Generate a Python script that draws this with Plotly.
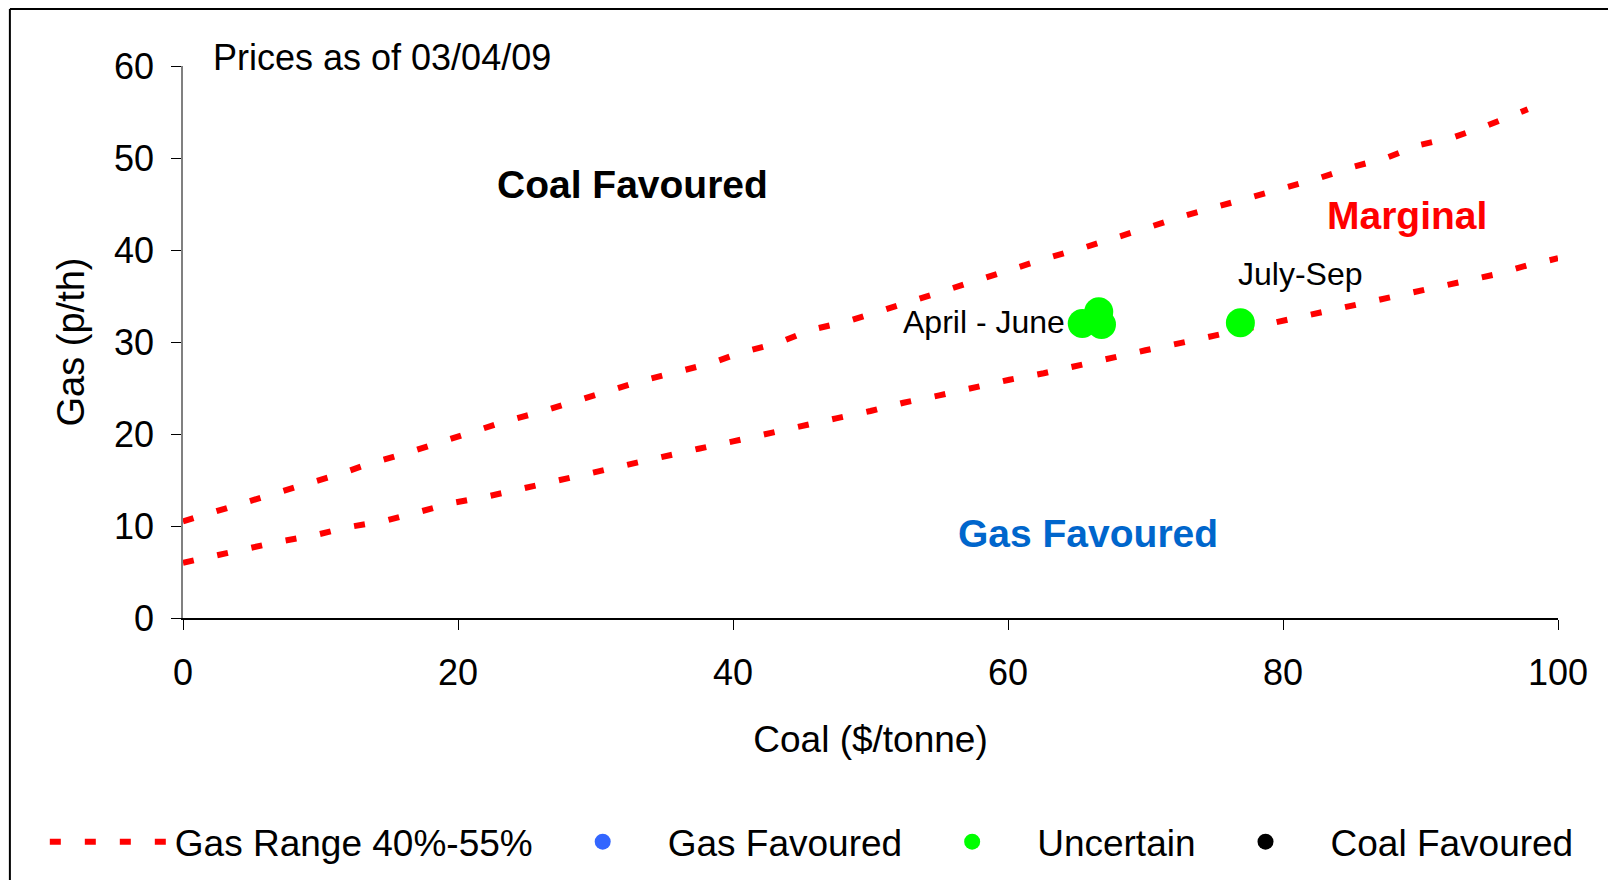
import plotly.graph_objects as go

# Gas range lines
upper_x = [0, 3.9, 6.5, 8.8, 11.3, 13.6, 16.2, 18.5, 21.1, 23.5, 26, 28.5, 30.9, 33.4,
           35.8, 38.4, 40.7, 43.3, 45.6, 48.2, 50.8, 53.1, 55.6, 57.8, 60.5, 62.8, 65.4,
           67.8, 70.3, 72.8, 75.2, 77.7, 80.1, 82.6, 85, 87.5, 89.9, 92.5, 94.8, 97.8]
upper_y = [10.5, 12.2, 13.5, 14.5, 15.6, 16.8, 17.9, 19, 20.1, 21.4, 22.4, 23.6, 24.6, 25.8,
           26.7, 27.7, 28.9, 29.9, 31.3, 32.2, 33.4, 34.5, 35.7, 36.8, 38, 39.1, 40.2,
           41.4, 42.5, 43.7, 44.7, 45.9, 46.8, 47.8, 49, 50, 51.4, 52.3, 53.5, 55.3]

lower_x = [0, 2.1, 4.5, 7, 9.6, 12.1, 14.8, 17.3, 19.6, 22.1, 24.7, 27.3, 29.9, 32.3, 35,
           37.5, 40, 42.3, 45, 47.5, 50, 52.4, 55, 57.5, 60.1, 62.6, 65.1, 67.5, 70, 72.9,
           75.3, 77.8, 80.1, 82.6, 85.1, 87.7, 90.3, 92.9, 95.3, 97.7, 100]
lower_y = [6, 6.7, 7.4, 8.3, 9, 9.9, 10.6, 11.6, 12.5, 13.2, 14.1, 15, 15.8, 16.7, 17.5,
           18.4, 19.2, 20, 20.8, 21.7, 22.5, 23.4, 24.2, 25.1, 25.9, 26.6, 27.5, 28.3, 29.1, 30,
           30.8, 31.6, 32.3, 33.2, 34, 34.9, 35.8, 36.5, 37.3, 38.3, 39.1]

# quarterly forward prices (coal $/t, gas p/th)
uncertain_x = [65.4, 66.6, 66.8, 76.9]
uncertain_y = [32.0, 33.3, 31.9, 32.1]
quarter_labels = ['April - June', 'July-Sep']

FONT = 'Liberation Sans, Arial, sans-serif'

fig = go.Figure()

# one trace for the band, lines separated by a gap
fig.add_trace(go.Scatter(
    x=upper_x + [None] + lower_x,
    y=upper_y + [None] + lower_y,
    mode='lines',
    name='Gas Range 40%-55%',
    line=dict(color='#FF0000', width=6, dash='11px,24px'),
    connectgaps=False
))
fig.add_trace(go.Scatter(x=[None], y=[None], mode='markers', name='Gas Favoured',
                         marker=dict(color='#3366FF', size=22)))
fig.add_trace(go.Scatter(x=uncertain_x, y=uncertain_y, mode='markers', name='Uncertain',
                         marker=dict(color='#00FF00', size=29), cliponaxis=False))
fig.add_trace(go.Scatter(x=[None], y=[None], mode='markers', name='Coal Favoured',
                         marker=dict(color='#000000', size=22)))

annotations = [
    dict(x=32.7, y=47.1, text='<b>Coal Favoured</b>', font=dict(size=39, color='black')),
    dict(x=89, y=43.7, text='<b>Marginal</b>', font=dict(size=39, color='#FF0000')),
    dict(x=65.8, y=9.2, text='<b>Gas Favoured</b>', font=dict(size=39, color='#0066CC')),
    dict(x=64.3, y=32.2, text=quarter_labels[0], xanchor='right', font=dict(size=32, color='black')),
    dict(x=81.3, y=37.4, text=quarter_labels[1], xanchor='center', font=dict(size=32, color='black')),
]
for a in annotations:
    a.update(xref='x', yref='y', showarrow=False, yanchor='middle')
# date note sits above the plotting area, so it goes in paper coordinates
annotations.append(dict(xref='paper', yref='paper', x=0.0205, y=1.016, showarrow=False,
                        text='Prices as of 03/04/09', xanchor='left', yanchor='middle',
                        font=dict(size=36, color='black')))

fig.update_layout(
    width=1616, height=880,
    margin=dict(l=175, r=66, t=58, b=270),
    paper_bgcolor='white', plot_bgcolor='white',
    font=dict(family=FONT, size=34, color='black'),
    annotations=annotations,
    showlegend=True,
    legend=dict(orientation='h', x=-0.1005, xanchor='left', y=-0.406, yanchor='middle',
                font=dict(size=37), itemwidth=120, bgcolor='rgba(0,0,0,0)'),
    shapes=[
        # outer chart frame (top and left edges visible)
        dict(type='line', xref='paper', yref='paper', x0=-0.1259, x1=1.06, y0=1.1033, y1=1.1033,
             line=dict(color='black', width=2)),
        dict(type='line', xref='paper', yref='paper', x0=-0.1259, x1=-0.1259, y0=1.1033, y1=-0.5,
             line=dict(color='black', width=2)),
    ],
)

fig.update_xaxes(
    range=[0, 100], dtick=20, tick0=0,
    showgrid=False, zeroline=False,
    showline=True, linecolor='black', linewidth=2,
    ticks='outside', ticklen=10, tickcolor='black', tickwidth=1,
    tickfont=dict(size=36), ticklabelstandoff=12,
    title=dict(text='Coal ($/tonne)', font=dict(size=37), standoff=34),
)
fig.update_yaxes(
    range=[0, 60], dtick=10, tick0=0,
    showgrid=False, zeroline=False,
    showline=True, linecolor='#808080', linewidth=1.5,
    ticks='outside', ticklen=10, tickcolor='black', tickwidth=1,
    tickfont=dict(size=36), ticklabelstandoff=10,
    title=dict(text='Gas (p/th)', font=dict(size=38), standoff=18),
)

fig.write_html('out.html')
